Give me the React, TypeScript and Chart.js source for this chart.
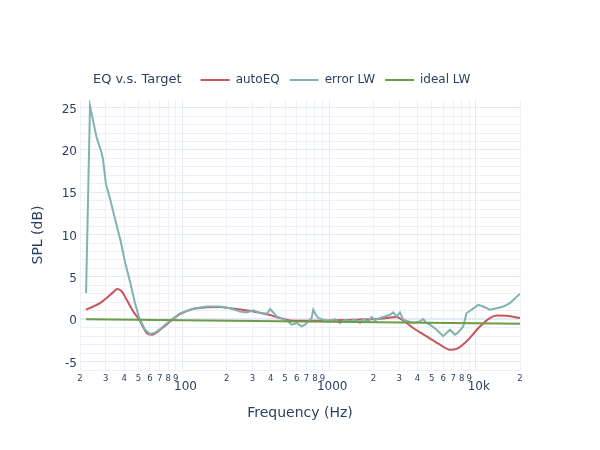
import { useEffect, useRef } from "react";
import { Chart, registerables } from "chart.js";

Chart.register(...registerables);

// ---- data ----
const autoEqFreq = [22.0, 24.6, 27.4, 30.4, 33.7, 35.9, 38.5, 41.6, 46.2, 50.7, 57.0, 61.6, 64.9, 72.1, 82, 96, 118, 146, 180, 211, 304, 395, 462, 540, 865, 1452, 2218, 2882, 3184, 3742, 4616, 5689, 6657, 7394, 8650, 10660, 12470, 13850, 16210, 19970];
const autoEqSpl = [1.12, 1.5, 1.9, 2.5, 3.2, 3.57, 3.3, 2.3, 0.9, -0.06, -1.63, -1.83, -1.7, -1.1, -0.3, 0.6, 1.2, 1.4, 1.44, 1.3, 0.92, 0.5, 0.14, -0.14, -0.18, -0.06, 0.06, 0.26, -0.15, -1.04, -2.03, -3.0, -3.6, -3.5, -2.6, -0.85, 0.14, 0.45, 0.41, 0.14];

const errorFreq = [22.0, 23.4, 26.0, 27.7, 28.6, 30.1, 32.0, 33.7, 35.9, 37.9, 40.5, 43.8, 47.4, 50.7, 55.5, 60, 64.9, 72.1, 82, 96, 118, 146, 180, 211, 246, 274, 304, 337, 375, 395, 416, 438, 486, 526, 555, 600, 649, 684, 720, 759, 779, 812, 842, 911, 1012, 1095, 1184, 1281, 1385, 1498, 1621, 1707, 1846, 1948, 2050, 2218, 2400, 2596, 2734, 2882, 3036, 3198, 3742, 4156, 4377, 4616, 4862, 5402, 5992, 6657, 7198, 7546, 8202, 8650, 9356, 10380, 11230, 12470, 13850, 15370, 17070, 19970];
const errorSpl = [3.1, 25.2, 21.4, 20.0, 19.05, 15.9, 14.3, 12.7, 10.8, 9.2, 6.8, 4.5, 1.9, 0.14, -1.24, -1.75, -1.6, -1.0, -0.2, 0.7, 1.24, 1.5, 1.5, 1.3, 0.92, 0.8, 1.04, 0.73, 0.65, 1.2, 0.8, 0.33, 0.02, -0.26, -0.65, -0.45, -0.85, -0.65, -0.26, 0.14, 1.12, 0.53, 0.14, -0.06, -0.26, 0.02, -0.45, -0.06, -0.26, -0.06, -0.45, 0.02, -0.26, 0.26, -0.14, 0.14, 0.33, 0.53, 0.8, 0.33, 0.8, -0.06, -0.45, -0.26, 0.02, -0.45, -0.65, -1.24, -2.0, -1.24, -1.83, -1.6, -0.85, 0.73, 1.12, 1.7, 1.5, 1.12, 1.3, 1.5, 1.9, 3.0];

const idealFreq = [22, 100, 1000, 10000, 20000];
const idealSpl = [0.0, -0.12, -0.31, -0.49, -0.55];

const seriesNames = ["autoEQ", "error LW", "ideal LW"];
const seriesColors = ["#c8555a", "#80b2b3", "#6b9d48"];
const legendTitle = "EQ v.s. Target";

const xMin = 20;
const xMax = 20000;
const xDecades = [10, 100, 1000, 10000];
const xDigits = [1, 2, 3, 4, 5, 6, 7, 8, 9];
const xMajorTicks = [100, 1000, 10000];
const xMajorLabels = ["100", "1000", "10k"];

const yMin = -6;
const yMax = 25.9;
const yGridValues = [-6, -5, -4, -3, -2, -1, 0, 1, 2, 3, 4, 5, 6, 7, 8, 9, 10, 11, 12, 13, 14, 15, 16, 17, 18, 19, 20, 21, 22, 23, 24, 25];
const yLabelValues = [-5, 0, 5, 10, 15, 20, 25];

const FONT = '"DejaVu Sans"';
const TEXT = "#2a3f5f";

const toPoints = (xs: number[], ys: number[]) => xs.map((x, i) => ({ x, y: ys[i] }));

const legendPlugin = {
  id: "plotlyLegend",
  afterDraw(chart: any) {
    const ctx = chart.ctx;
    ctx.save();
    ctx.textBaseline = "middle";
    ctx.fillStyle = TEXT;
    const y = 80;
    let x = 93;
    ctx.font = `13px ${FONT}`;
    ctx.fillText(legendTitle, x, y);
    x += ctx.measureText(legendTitle).width + 19;
    ctx.font = `12px ${FONT}`;
    chart.data.datasets.forEach((ds: any) => {
      ctx.strokeStyle = ds.borderColor;
      ctx.lineWidth = 2;
      ctx.beginPath();
      ctx.moveTo(x, y);
      ctx.lineTo(x + 29, y);
      ctx.stroke();
      ctx.fillStyle = TEXT;
      ctx.fillText(ds.label, x + 35, y);
      x += 35 + ctx.measureText(ds.label).width + 10;
    });
    ctx.restore();
  },
};

const digitOf = (v: number) => Math.round(v / Math.pow(10, Math.floor(Math.log10(v) + 1e-9)));

export default function App() {
  const ref = useRef<HTMLCanvasElement | null>(null);

  useEffect(() => {
    if (!ref.current) return;
    const xGrid: number[] = [];
    xDecades.forEach((d) => xDigits.forEach((m) => {
      const v = m * d;
      if (v >= xMin && v <= xMax) xGrid.push(v);
    }));

    const chart = new Chart(ref.current, {
      type: "line",
      data: {
        datasets: [
          { label: seriesNames[0], data: toPoints(autoEqFreq, autoEqSpl), borderColor: seriesColors[0], backgroundColor: seriesColors[0], borderWidth: 2, pointRadius: 0, cubicInterpolationMode: "monotone", order: 3 },
          { label: seriesNames[1], data: toPoints(errorFreq, errorSpl), borderColor: seriesColors[1], backgroundColor: seriesColors[1], borderWidth: 2, pointRadius: 0, tension: 0, order: 2 },
          { label: seriesNames[2], data: toPoints(idealFreq, idealSpl), borderColor: seriesColors[2], backgroundColor: seriesColors[2], borderWidth: 2, pointRadius: 0, tension: 0, order: 1 },
        ],
      },
      options: {
        responsive: false,
        animation: false,
        layout: { padding: { top: 100, right: 80, left: 0, bottom: 0 } },
        plugins: { legend: { display: false }, tooltip: { enabled: false } },
        scales: {
          x: {
            type: "logarithmic",
            position: "bottom",
            min: xMin,
            max: xMax,
            afterBuildTicks: (scale: any) => { scale.ticks = xGrid.map((v) => ({ value: v })); },
            afterFit: (scale: any) => { scale.height = 80; },
            border: { display: false },
            grid: {
              drawTicks: false,
              color: (c: any) => (c.tick && digitOf(c.tick.value) === 1 ? "#e4eaf3" : "#edf1f7"),
            },
            ticks: {
              autoSkip: false,
              maxRotation: 0,
              minRotation: 0,
              padding: 4,
              color: TEXT,
              font: (c: any) => (c.tick && digitOf(c.tick.value) === 1
                ? { family: FONT, size: 12, lineHeight: 26 / 12 }
                : { family: FONT, size: 8.5, lineHeight: 1.2 }),
              callback: (v: any) => {
                const n = Number(v);
                const i = xMajorTicks.indexOf(n);
                if (i >= 0) return "\u2002" + xMajorLabels[i];
                const m = digitOf(n);
                return m === 1 ? "" : String(m);
              },
            },
            title: { display: true, text: "Frequency (Hz)", color: TEXT, font: { family: FONT, size: 14 }, padding: { top: 0, bottom: 28 } },
          },
          y: {
            type: "linear",
            min: yMin,
            max: yMax,
            afterBuildTicks: (scale: any) => { scale.ticks = yGridValues.map((v) => ({ value: v })); },
            afterFit: (scale: any) => { scale.width = 80; },
            border: { display: false },
            grid: {
              drawTicks: false,
              color: (c: any) => (c.tick && c.tick.value % 5 === 0 ? "#e4eaf3" : "#edf1f7"),
              lineWidth: (c: any) => (c.tick && c.tick.value === 0 ? 2 : 1),
            },
            ticks: {
              autoSkip: false,
              padding: 3,
              labelOffset: 2,
              color: TEXT,
              font: { family: FONT, size: 12 },
              callback: (v: any) => (yLabelValues.includes(Number(v)) ? String(v) : ""),
            },
            title: { display: true, text: "SPL (dB)", color: TEXT, font: { family: FONT, size: 14 }, padding: { top: 30, bottom: 0 } },
          },
        },
      } as any,
      plugins: [legendPlugin],
    });
    return () => chart.destroy();
  }, []);

  return (
    <div style={{ position: "absolute", left: 0, top: 0, width: 600, height: 450, background: "#fff" }}>
      <canvas ref={ref} width={600} height={450} />
    </div>
  );
}
